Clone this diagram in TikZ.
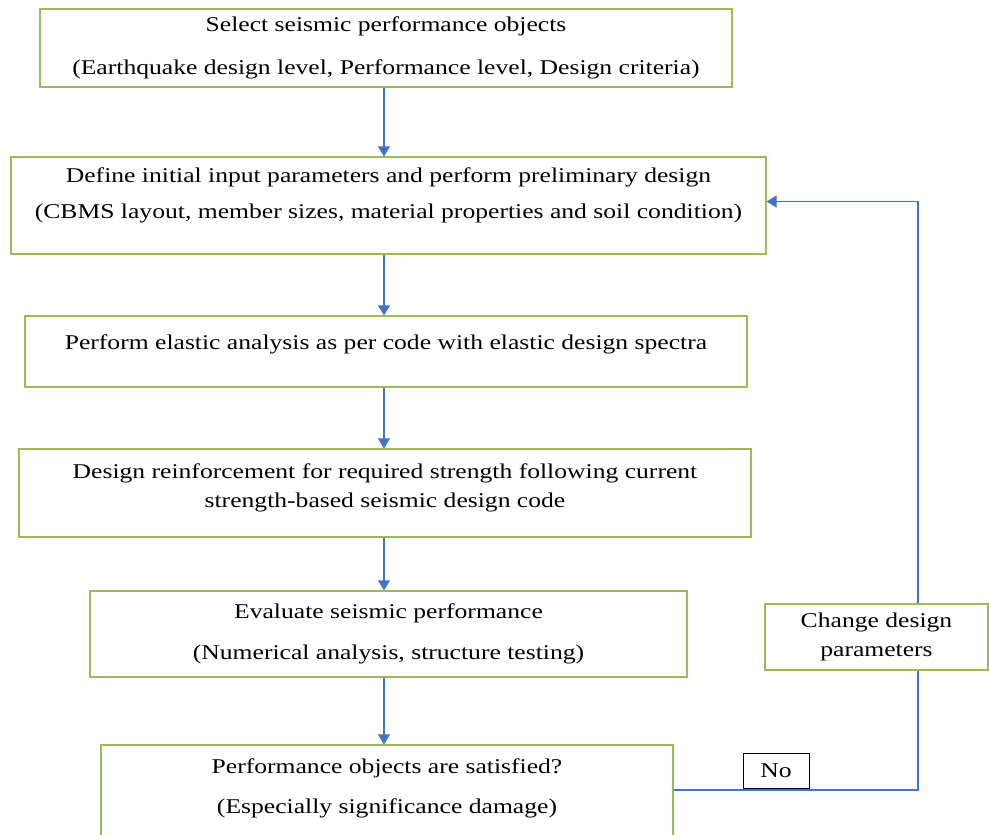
\documentclass[tikz,border=0pt]{standalone}
\usepackage{fontspec}
\setmainfont[FakeStretch=1.22]{Liberation Serif}
\usetikzlibrary{arrows.meta}
\definecolor{boxgreen}{HTML}{9BBB59}
\definecolor{flowblue}{HTML}{4472C4}
\tikzset{
  stepbox/.style={draw=boxgreen, line width=1.2pt, fill=white, align=center, inner sep=0pt},
  lift/.style={text depth=#1},
  answerbox/.style={draw=black, line width=0.8pt, fill=white, inner sep=0pt},
  flowline/.style={draw=flowblue, line width=1.2pt},
  flowarrow/.style={flowline, -{Triangle[length=10pt,width=12pt]}},
}
\begin{document}
\begin{tikzpicture}[x=1pt, y=-1pt, font=\fontsize{21}{26}\selectfont]
                \clip (0,0) rectangle (989,835);
                \fill[white] (0,0) rectangle (989,835);
                
                \node[stepbox, minimum width=692pt, minimum height=78pt] (sel) at (386,48) {Select seismic performance objects\\[17pt](Earthquake design level, Performance level, Design criteria)};
                
                \node[stepbox, lift=24.5pt, minimum width=755pt, minimum height=97pt] (def) at (388.5,205.5) {Define initial input parameters and perform preliminary design\\[10pt](CBMS layout, member sizes, material properties and soil condition)};
                
                \node[stepbox, lift=18.5pt, minimum width=722pt, minimum height=71pt] (ela) at (386,351.5) {Perform elastic analysis as per code with elastic design spectra};
                
                \node[stepbox, lift=14.5pt, minimum width=732pt, minimum height=88pt] (rei) at (385,493) {Design reinforcement for required strength following current\\[3pt]strength-based seismic design code};
                
                \node[stepbox, minimum width=597pt, minimum height=86pt] (eva) at (388.5,634) {Evaluate seismic performance\\[15pt](Numerical analysis, structure testing)};
                
                \node[stepbox, lift=18.5pt, minimum width=572pt, minimum height=100pt] (sat) at (387,795) {Performance objects are satisfied?\\[14pt](Especially significance damage)};
                
                \node[stepbox, minimum width=223pt, minimum height=66pt] (chg) at (876.5,637) {Change design\\[3pt]parameters};
                
                \node[answerbox, minimum width=66pt, minimum height=35pt] (no) at (776,770.5) {No};
                
                \coordinate (spine) at (384,0);
                \coordinate (turn) at (918,790);
                
                \draw[flowarrow] (sel.south -| spine) -- (def.north -| spine);
                \draw[flowarrow] (def.south -| spine) -- (ela.north -| spine);
                \draw[flowarrow] (ela.south -| spine) -- (rei.north -| spine);
                \draw[flowarrow] (rei.south -| spine) -- (eva.north -| spine);
                \draw[flowarrow] (eva.south -| spine) -- (sat.north -| spine);
                
                \draw[flowline] (sat.east |- turn) -- (turn) -- (chg.south -| turn);
                \draw[flowarrow] (chg.north -| turn) |- ([yshift=4pt]def.east);
            \end{tikzpicture}
\end{document}
